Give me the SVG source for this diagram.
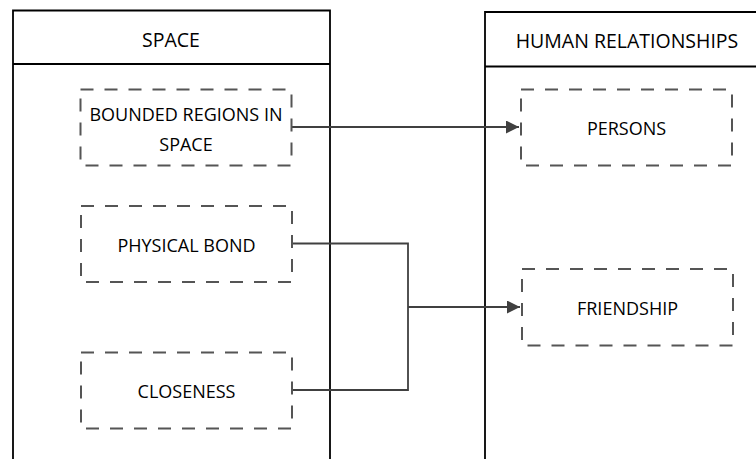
<svg xmlns="http://www.w3.org/2000/svg" width="756" height="459" viewBox="0 0 756 459">
<style>
.pool{fill:#fff;stroke:#000;stroke-width:1.8}
.dash{fill:none;stroke:#555;stroke-width:2;stroke-dasharray:13,11}
.t{font-family:"Open Sans","Liberation Sans",sans-serif;font-size:18px;fill:#000;text-anchor:middle;dominant-baseline:central}
.h{font-size:19.5px}
.c{fill:none;stroke:#404040;stroke-width:1.8}
</style>
<defs>
<marker id="arr" viewBox="0 0 10 10" refX="10" refY="5" markerWidth="13" markerHeight="13" markerUnits="userSpaceOnUse" orient="auto">
<path d="M0,0 L10,5 L0,10 z" fill="#404040"/>
</marker>
</defs>
<g id="space">
<path class="pool" d="M13,470 V10.5 H330 V470"/>
<line class="pool" x1="13" y1="64" x2="330" y2="64"/>
<text class="t h" x="171" y="39">SPACE</text>
</g>
<g id="human">
<path class="pool" d="M485,470 V12 H770"/>
<line class="pool" x1="485" y1="66.5" x2="770" y2="66.5"/>
<text class="t h" x="627" y="40">HUMAN RELATIONSHIPS</text>
</g>
<g id="connectors">
<path class="c" d="M292,127 H519" marker-end="url(#arr)"/>
<path class="c" d="M292,243.5 H408 V390 H292"/>
<path class="c" d="M408,307 H520" marker-end="url(#arr)"/>
</g>
<g id="bounded">
<rect class="dash" x="80.5" y="89.5" width="211" height="76"/>
<text class="t" x="186" y="114">BOUNDED REGIONS IN</text>
<text class="t" x="186" y="144">SPACE</text>
</g>
<g id="physical">
<rect class="dash" x="81" y="206" width="211" height="76"/>
<text class="t" x="186.5" y="245">PHYSICAL BOND</text>
</g>
<g id="closeness">
<rect class="dash" x="81" y="352.5" width="211" height="76"/>
<text class="t" x="186.5" y="391">CLOSENESS</text>
</g>
<g id="persons">
<rect class="dash" x="521" y="89.5" width="211" height="76"/>
<text class="t" x="626.5" y="128">PERSONS</text>
</g>
<g id="friendship">
<rect class="dash" x="522" y="269" width="211" height="76.5"/>
<text class="t" x="627.5" y="308">FRIENDSHIP</text>
</g>
</svg>
